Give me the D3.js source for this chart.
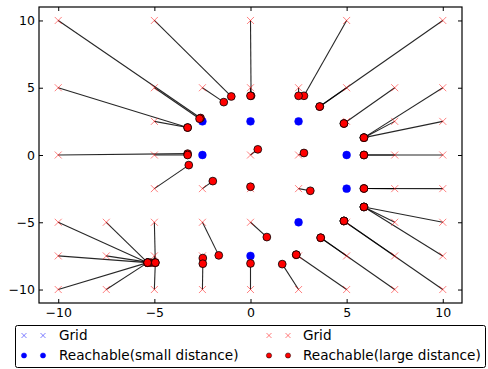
<!DOCTYPE html>
<html>
<head>
<meta charset="utf-8">
<script src="https://cdn.jsdelivr.net/npm/d3@7"></script>
<style>
  html, body { margin: 0; padding: 0; background: #fff; }
  svg { display: block; font-family: "DejaVu Sans", sans-serif; }
</style>
</head>
<body>
<svg id="chart" width="488" height="369"></svg>
<script>
// Grid points handled with the small step distance (they reach themselves)
const smallGridX = [-2.5, -2.5, 0, 2.5, 5, 5, 2.5, 0];
const smallGridY = [2.5, 0, 2.5, 2.5, 0, -2.5, -5, -7.5];
const smallReachX = [-2.5, -2.5, 0, 2.5, 5, 5, 2.5, 0];
const smallReachY = [2.5, 0, 2.5, 2.5, 0, -2.5, -5, -7.5];

// Grid points handled with the large step distance, and where each one lands
const largeGridX = [
  -10, -5, 0, 5, 10,
  -10, -5, -2.5, 0, 2.5, 5, 7.5, 10,
  -5, 5, 7.5, 10,
  -10, -5, 0, 2.5, 7.5, 10,
  -5, -2.5, 0, 2.5, 7.5, 10,
  -10, -7.5, -5, -2.5, 0, 5, 7.5, 10,
  -10, -7.5, -5, -2.5, 2.5, 5, 7.5, 10,
  -10, -7.5, -5, -2.5, 0, 2.5, 5, 7.5, 10
];
const largeGridY = [
  10, 10, 10, 10, 10,
  5, 5, 5, 5, 5, 5, 5, 5,
  2.5, 2.5, 2.5, 2.5,
  0, 0, 0, 0, 0, 0,
  -2.5, -2.5, -2.5, -2.5, -2.5, -2.5,
  -5, -5, -5, -5, -5, -5, -5, -5,
  -7.5, -7.5, -7.5, -7.5, -7.5, -7.5, -7.5, -7.5,
  -10, -10, -10, -10, -10, -10, -10, -10, -10
];
const largeReachX = [
  -2.6, -1.0, 0.03, 2.78, 3.6,
  -3.27, -2.65, -1.39, 0.0, 2.5, 3.6, 4.86, 5.9,
  -3.27, 4.86, 5.9, 5.9,
  -3.27, -3.27, 0.38, 2.78, 5.9, 5.9,
  -3.21, -1.96, 0.0, 3.11, 5.9, 5.9,
  -5.35, -5.35, -4.95, -1.65, 0.85, 4.86, 5.9, 5.9,
  -5.35, -5.2, -5.0, -2.48, 2.38, 3.65, 4.86, 5.9,
  -5.35, -5.35, -4.95, -2.48, 0.0, 1.65, 2.38, 3.65, 4.86
];
const largeReachY = [
  2.75, 4.35, 4.4, 4.4, 3.6,
  2.04, 2.7, 3.93, 4.4, 4.4, 3.6, 2.34, 1.29,
  2.04, 2.34, 1.29, 1.29,
  0.1, 0.0, 0.42, 0.15, 0.0, 0.0,
  -0.75, -1.94, -2.36, -2.66, -2.49, -2.49,
  -8.0, -8.0, -8.0, -7.46, -6.1, -4.9, -3.86, -3.86,
  -8.0, -8.0, -8.0, -7.66, -7.41, -6.15, -4.9, -3.86,
  -8.0, -8.0, -8.0, -8.08, -8.06, -8.11, -7.41, -6.15, -4.9
];

const tickValues = [-10, -5, 0, 5, 10];
const legendLabels = ["Grid", "Reachable(small distance)", "Grid", "Reachable(large distance)"];

const svg = d3.select("#chart");
const margin = { left: 39, right: 26, top: 7, bottom: 66 };
const W = 488, H = 369;

const x = d3.scaleLinear().domain([-11, 11]).range([margin.left, W - margin.right]);
const y = d3.scaleLinear().domain([-11, 11]).range([H - margin.bottom, margin.top]);

const fmt = d => d < 0 ? "\u2212" + Math.abs(d) : String(d);

const plot = svg.append("g");

// connecting segments: grid point -> reached point
plot.selectAll("line.link").data(largeGridX.map((gx, i) => i)).join("line")
  .attr("class", "link")
  .attr("x1", i => x(largeGridX[i])).attr("y1", i => y(largeGridY[i]))
  .attr("x2", i => x(largeReachX[i])).attr("y2", i => y(largeReachY[i]))
  .attr("stroke", "#000").attr("stroke-opacity", 0.85).attr("stroke-width", 1.1);

function crosses(g, xs, ys, color, size) {
  const s = size / 2;
  g.selectAll(null).data(xs.map((v, i) => i)).join("path")
    .attr("d", i => {
      const cx = x(xs[i]), cy = y(ys[i]);
      return `M${cx - s},${cy - s}L${cx + s},${cy + s}M${cx - s},${cy + s}L${cx + s},${cy - s}`;
    })
    .attr("stroke", color).attr("stroke-opacity", 0.5).attr("stroke-width", 1).attr("fill", "none");
}

crosses(plot.append("g"), smallGridX, smallGridY, "#0000ff", 6);
crosses(plot.append("g"), largeGridX, largeGridY, "#ff0000", 7);

// reached points
plot.append("g").selectAll("circle").data(smallReachX.map((v, i) => i)).join("circle")
  .attr("cx", i => x(smallReachX[i])).attr("cy", i => y(smallReachY[i]))
  .attr("r", 3.9).attr("fill", "#0000ff").attr("stroke", "#0000ff").attr("stroke-width", 0.5);

plot.append("g").selectAll("circle").data(largeReachX.map((v, i) => i)).join("circle")
  .attr("cx", i => x(largeReachX[i])).attr("cy", i => y(largeReachY[i]))
  .attr("r", 3.9).attr("fill", "#ff0000").attr("stroke", "#000").attr("stroke-width", 0.8);

// axes with inward ticks on all four sides
const tickLen = 4;
const axB = svg.append("g").attr("transform", `translate(0,${y(-11)})`)
  .call(d3.axisBottom(x).tickValues(tickValues).tickSize(-tickLen).tickPadding(5).tickFormat(fmt));
const axT = svg.append("g").attr("transform", `translate(0,${y(11)})`)
  .call(d3.axisTop(x).tickValues(tickValues).tickSize(-tickLen).tickFormat(""));
const axL = svg.append("g").attr("transform", `translate(${x(-11)},0)`)
  .call(d3.axisLeft(y).tickValues(tickValues).tickSize(-tickLen).tickPadding(4).tickFormat(fmt));
const axR = svg.append("g").attr("transform", `translate(${x(11)},0)`)
  .call(d3.axisRight(y).tickValues(tickValues).tickSize(-tickLen).tickFormat(""));

[axB, axT, axL, axR].forEach(a => {
  a.select(".domain").remove();
  a.selectAll(".tick line").attr("stroke", "#000").attr("stroke-width", 1);
  a.selectAll("text").attr("font-size", 12.5).attr("fill", "#000")
    .attr("font-family", "DejaVu Sans, sans-serif");
});

svg.append("rect")
  .attr("x", x(-11)).attr("y", y(11))
  .attr("width", x(11) - x(-11)).attr("height", y(-11) - y(11))
  .attr("fill", "none").attr("stroke", "#000").attr("stroke-width", 1.2);

// legend
const leg = svg.append("g");
leg.append("rect").attr("x", 15.5).attr("y", 325.5).attr("width", 470).attr("height", 42)
  .attr("rx", 2).attr("fill", "#fff").attr("stroke", "#000").attr("stroke-width", 1);

const legCols = [
  { mx: [24, 43], tx: 59, color: "#0000ff", edge: "#0000ff" },
  { mx: [269, 288], tx: 303, color: "#ff0000", edge: "#000" }
];
const rowY = [335.5, 355.5];
legCols.forEach((c, ci) => {
  c.mx.forEach(mx => {
    const s = 2.5;
    leg.append("path")
      .attr("d", `M${mx - s},${rowY[0] - s}L${mx + s},${rowY[0] + s}M${mx - s},${rowY[0] + s}L${mx + s},${rowY[0] - s}`)
      .attr("stroke", c.color).attr("stroke-opacity", 0.5).attr("stroke-width", 1);
    leg.append("circle").attr("cx", mx).attr("cy", rowY[1]).attr("r", 2.6)
      .attr("fill", c.color).attr("stroke", c.edge).attr("stroke-width", 0.5);
  });
  leg.append("text").attr("x", c.tx).attr("y", rowY[0]).attr("dy", "0.35em")
    .attr("font-size", 13.6).text(legendLabels[ci * 2]);
  leg.append("text").attr("x", c.tx).attr("y", rowY[1]).attr("dy", "0.35em")
    .attr("font-size", 13.6).text(legendLabels[ci * 2 + 1]);
});
</script>
</body>
</html>
